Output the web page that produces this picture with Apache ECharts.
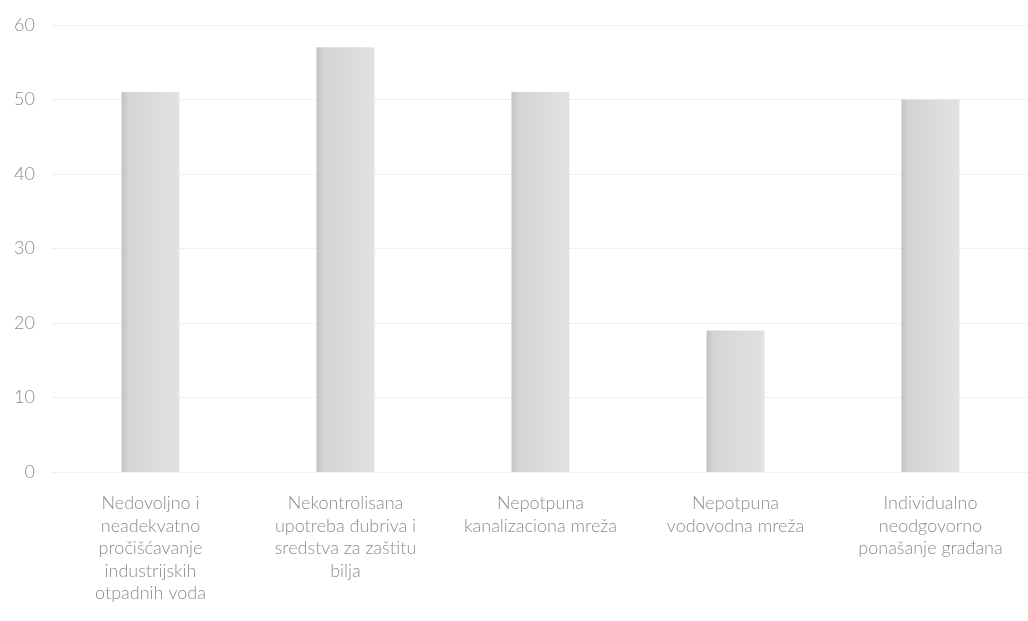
<!DOCTYPE html>
<html>
<head>
<meta charset="utf-8">
<script src="https://cdn.jsdelivr.net/npm/echarts@6/dist/echarts.min.js"></script>
<style>
html,body{margin:0;padding:0;background:#fff;}
#c{width:1028px;height:621px;}
</style>
</head>
<body>
<div id="c"></div>
<script>
const categories = [
  "Nedovoljno i\nneadekvatno\npročišćavanje\nindustrijskih\notpadnih voda",
  "Nekontrolisana\nupotreba đubriva i\nsredstva za zaštitu\nbilja",
  "Nepotpuna\nkanalizaciona mreža",
  "Nepotpuna\nvodovodna mreža",
  "Individualno\nneodgovorno\nponašanje građana"
];
const values = [51, 57, 51, 19, 50];
const yMin = 0, yMax = 60, yStep = 10;

const chart = echarts.init(document.getElementById('c'));
chart.setOption({
  animation: false,
  backgroundColor: '#ffffff',
  grid: { left: 53, top: 25, width: 978, bottom: 149, containLabel: false },
  xAxis: {
    type: 'category',
    data: categories,
    axisLine: { show: false },
    axisTick: { show: false },
    axisLabel: {
      interval: 0,
      margin: 20,
      color: '#8c8c8c',
      fontFamily: 'Lato',
      fontWeight: 300,
      fontSize: 18,
      lineHeight: 22.5
    }
  },
  yAxis: {
    type: 'value',
    min: yMin, max: yMax, interval: yStep,
    axisLine: { show: false },
    axisTick: { show: false },
    axisLabel: { margin: 18, color: '#8c8c8c', fontFamily: 'Lato', fontWeight: 300, fontSize: 18 },
    splitLine: { lineStyle: { color: '#e2e2e2', type: 'dotted', width: 1 } }
  },
  series: [{
    type: 'bar',
    data: values,
    barWidth: 58,
    itemStyle: {
      color: new echarts.graphic.LinearGradient(0, 0, 1, 0, [
        { offset: 0, color: '#c2c2c2' },
        { offset: 0.12, color: '#d4d4d4' },
        { offset: 1, color: '#e2e2e2' }
      ])
    }
  }]
});
</script>
</body>
</html>
